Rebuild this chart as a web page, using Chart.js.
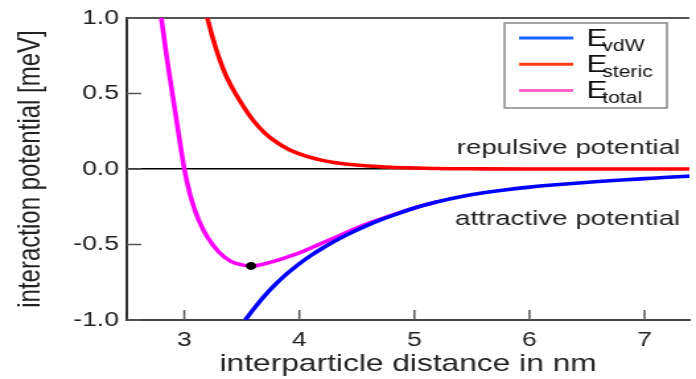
<!DOCTYPE html>
<html>
<head>
<meta charset="utf-8">
<script src="https://cdn.jsdelivr.net/npm/chart.js@4"></script>
<style>
html, body { margin: 0; padding: 0; background: #fff; overflow: hidden; }
#wrap { position: relative; width: 527px; height: 379px; transform: scaleX(1.3207); transform-origin: 0 0; }
</style>
</head>
<body>
<div id="wrap"><canvas id="potential_chart"></canvas></div>
<script>
// distance in nm, potential in meV
const vdwX = [3.53, 3.6, 3.7, 3.8, 3.9, 4.0, 4.1, 4.2, 4.3, 4.4, 4.5, 4.6, 4.7, 4.8, 5.0, 5.2, 5.4, 5.6, 5.8, 6.0, 6.2, 6.4, 6.6, 6.8, 7.0, 7.2, 7.4];
const vdwY = [-1.0, -0.93, -0.838, -0.758, -0.688, -0.627, -0.573, -0.525, -0.481, -0.441, -0.404, -0.37, -0.339, -0.311, -0.258, -0.217, -0.184, -0.158, -0.137, -0.12, -0.106, -0.094, -0.083, -0.073, -0.064, -0.055, -0.047];

const stericX = [3.19, 3.2, 3.25, 3.3, 3.35, 3.4, 3.5, 3.6, 3.7, 3.8, 3.9, 4.0, 4.1, 4.2, 4.3, 4.4, 4.6, 4.8, 5.0, 5.2, 5.6, 6.0, 7.4];
const stericY = [1.03, 1.0, 0.86, 0.74, 0.64, 0.56, 0.43, 0.32, 0.238, 0.178, 0.133, 0.1, 0.076, 0.057, 0.043, 0.033, 0.02, 0.012, 0.007, 0.003, 0.001, 0, 0];

const totalX = [2.79, 2.8, 2.85, 2.9, 2.95, 3.0, 3.05, 3.1, 3.15, 3.2, 3.3, 3.4, 3.5, 3.58, 3.7, 3.8, 3.9, 4.0, 4.1, 4.2, 4.3, 4.4, 4.5, 4.6, 4.7, 4.8, 5.0, 5.2];
const totalY = [1.056, 1.0, 0.725, 0.48, 0.235, 0.0, -0.17, -0.29, -0.38, -0.45, -0.55, -0.61, -0.635, -0.642, -0.628, -0.607, -0.582, -0.555, -0.523, -0.49, -0.457, -0.423, -0.39, -0.36, -0.333, -0.307, -0.258, -0.217];

const minimumX = [3.58];
const minimumY = [-0.642];

const xTicks = [3, 4, 5, 6, 7];
const yTicks = [-1, -0.5, 0, 0.5, 1];

const legendNames = ['vdW', 'steric', 'total'];
const legendColors = ['#1464ff', '#ff3c14', '#ff64cc'];

const FONT = '"Liberation Sans", Arial, sans-serif';

function toPoints(xs, ys) {
    return xs.map((x, i) => ({ x: x, y: ys[i] }));
}

// inward ticks, the two labels and the legend with subscripts
const extras = {
    id: 'extras',
    afterDraw(chart) {
        const { ctx, chartArea, scales: { x, y } } = chart;
        ctx.save();
        ctx.strokeStyle = '#555';
        ctx.lineWidth = 1.5;
        ctx.beginPath();
        xTicks.forEach(v => {
            const px = x.getPixelForValue(v);
            ctx.moveTo(px, chartArea.bottom);
            ctx.lineTo(px, chartArea.bottom - 10);
        });
        yTicks.forEach(v => {
            const py = y.getPixelForValue(v);
            ctx.moveTo(chartArea.left, py);
            ctx.lineTo(chartArea.left + 11, py);
        });
        ctx.stroke();

        ctx.fillStyle = '#222';
        ctx.font = '21px ' + FONT;
        ctx.textAlign = 'right';
        ctx.textBaseline = 'alphabetic';
        ctx.fillText('repulsive potential', x.getPixelForValue(7.31), y.getPixelForValue(0.10));
        ctx.fillText('attractive potential', x.getPixelForValue(7.31), y.getPixelForValue(-0.37));

        // legend box
        const bx = 382, by = 23, bw = 123, bh = 85;
        ctx.fillStyle = '#fff';
        ctx.fillRect(bx, by, bw, bh);
        ctx.strokeStyle = '#888';
        ctx.lineWidth = 1.5;
        ctx.strokeRect(bx, by, bw, bh);
        ctx.textAlign = 'left';
        legendNames.forEach((name, i) => {
            const ly = 38 + i * 26.2;
            ctx.strokeStyle = legendColors[i];
            ctx.lineWidth = 3;
            ctx.beginPath();
            ctx.moveTo(393, ly);
            ctx.lineTo(434, ly);
            ctx.stroke();
            ctx.fillStyle = '#111';
            ctx.font = '24px ' + FONT;
            ctx.fillText('E', 444, ly + 7.5);
            ctx.font = '16px ' + FONT;
            ctx.fillText(name, 456, ly + 13);
        });
        ctx.restore();
    }
};

const lineStyle = {
    showLine: true,
    pointRadius: 0,
    borderWidth: 3.6,
    cubicInterpolationMode: 'monotone',
    clip: 0
};

let potentialChart;

function initPotentialChart() {
    const ctx = document.getElementById('potential_chart').getContext('2d');
    potentialChart = new Chart(ctx, {
        type: 'scatter',
        data: {
            datasets: [
                { label: 'minimum', data: toPoints(minimumX, minimumY), pointRadius: 3.5, backgroundColor: '#000', borderColor: '#000', showLine: false, order: 0 },
                { label: 'E vdW', data: toPoints(vdwX, vdwY), borderColor: '#0000ff', order: 1, ...lineStyle },
                { label: 'E total', data: toPoints(totalX, totalY), borderColor: '#ff00ff', order: 2, ...lineStyle },
                { label: 'E steric', data: toPoints(stericX, stericY), borderColor: '#ff0000', order: 3, ...lineStyle }
            ]
        },
        options: {
            responsive: true,
            maintainAspectRatio: false,
            animation: false,
            layout: { padding: { top: 15, right: 0, bottom: 0, left: 0 } },
            plugins: { legend: { display: false }, tooltip: { enabled: false } },
            scales: {
                x: {
                    type: 'linear',
                    min: 2.5,
                    max: 7.39,
                    afterBuildTicks: s => { s.ticks = xTicks.map(v => ({ value: v })); },
                    afterFit: s => { s.height = 59; },
                    grid: { display: false, drawTicks: false },
                    border: { display: true, color: '#444', width: 2 },
                    ticks: { color: '#222', font: { family: FONT, size: 20 }, padding: 8, maxRotation: 0 },
                    title: {
                        display: true,
                        text: 'interparticle distance in nm',
                        color: '#222',
                        font: { family: FONT, size: 24 },
                        padding: { top: 0, bottom: 0 }
                    }
                },
                y: {
                    min: -1,
                    max: 1,
                    afterBuildTicks: s => { s.ticks = yTicks.map(v => ({ value: v })); },
                    afterFit: s => { s.width = 96; },
                    grid: {
                        drawTicks: false,
                        color: c => c.tick.value === 0 ? '#000' : (c.tick.value === 1 ? '#555' : 'rgba(0,0,0,0)'),
                        lineWidth: c => c.tick.value === 0 ? 1.5 : 2
                    },
                    border: { display: true, color: '#333', width: 2 },
                    ticks: { color: '#222', font: { family: FONT, size: 20 }, padding: 6, callback: v => v.toFixed(1) },
                    title: {
                        display: true,
                        text: 'interaction potential [meV]',
                        color: '#222',
                        font: { family: FONT, size: 24 },
                        padding: { top: 9, bottom: 0 }
                    }
                }
            }
        },
        plugins: [extras]
    });
}

initPotentialChart();
</script>
</body>
</html>
